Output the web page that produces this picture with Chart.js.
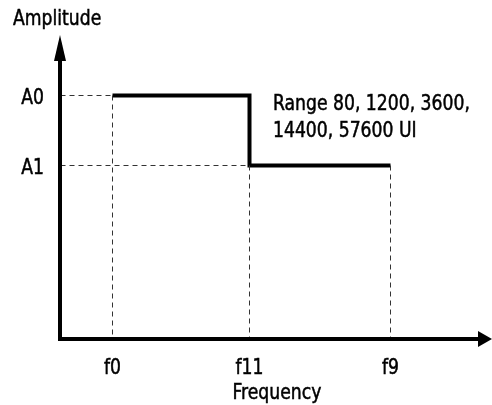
<!DOCTYPE html>
<html>
<head>
<meta charset="utf-8">
<script src="https://cdn.jsdelivr.net/npm/chart.js@4"></script>
<style>
html,body{margin:0;padding:0;background:#fff;}
#wrap{width:492px;height:405px;}
</style>
</head>
<body>
<div id="wrap"><canvas id="c" width="492" height="405"></canvas></div>
<script>
// ---- data (schematic units) ----
const freqLabels = ['f0', 'f11', 'f9'];
const freqValues = [52, 189, 330];
const ampLabels = ['A0', 'A1'];
const ampValues = [243, 173];
const stepX = [52, 189, 189, 330];
const stepY = [243, 243, 173, 173];
const noteLines = ['Range 80, 1200, 3600,', '14400, 57600 UI'];
const xTitle = 'Frequency';
const yTitle = 'Amplitude';

const FONT = '"DejaVu Sans Condensed", "Liberation Sans Narrow", sans-serif';
const SQUEEZE = 0.87;

const stepData = stepX.map((x, i) => ({x: x, y: stepY[i]}));
const guide = (pts) => ({
  data: pts, showLine: true, borderColor: '#333', borderWidth: 1,
  borderDash: [5, 4], pointRadius: 0, fill: false
});
const guides = [
  guide([{x: 0, y: ampValues[0]}, {x: freqValues[0], y: ampValues[0]}]),
  guide([{x: 0, y: ampValues[1]}, {x: freqValues[1], y: ampValues[1]}]),
  guide([{x: freqValues[0], y: ampValues[0]}, {x: freqValues[0], y: 0}]),
  guide([{x: freqValues[1], y: ampValues[1]}, {x: freqValues[1], y: 0}]),
  guide([{x: freqValues[2], y: ampValues[1]}, {x: freqValues[2], y: 0}])
];

function drawText(ctx, text, x, y, align) {
  ctx.save();
  ctx.translate(x, y);
  ctx.scale(SQUEEZE, 1);
  ctx.textAlign = align;
  ctx.textBaseline = 'alphabetic';
  ctx.lineWidth = 0.5;
  ctx.fillText(text, 0, 0);
  ctx.strokeText(text, 0, 0);
  ctx.restore();
}

const decor = {
  id: 'decor',
  afterDatasetsDraw(chart) {
    const ctx = chart.ctx, a = chart.chartArea;
    const xs = chart.scales.x, ys = chart.scales.y;
    ctx.save();
    ctx.fillStyle = '#000'; ctx.strokeStyle = '#000';
    ctx.lineWidth = 4; ctx.lineCap = 'butt';
    // y axis with arrow
    ctx.beginPath(); ctx.moveTo(a.left, a.bottom + 2); ctx.lineTo(a.left, 58); ctx.stroke();
    ctx.beginPath(); ctx.moveTo(a.left, 35); ctx.lineTo(a.left - 6, 61); ctx.lineTo(a.left + 6, 61); ctx.closePath(); ctx.fill();
    // x axis with arrow
    ctx.beginPath(); ctx.moveTo(a.left - 2, a.bottom); ctx.lineTo(480, a.bottom); ctx.stroke();
    ctx.beginPath(); ctx.moveTo(492, a.bottom); ctx.lineTo(478, a.bottom - 8); ctx.lineTo(478, a.bottom + 8); ctx.closePath(); ctx.fill();
    // texts
    ctx.font = '22px ' + FONT;
    drawText(ctx, yTitle, 13, 25, 'left');
    drawText(ctx, noteLines[0], 273, 110, 'left');
    drawText(ctx, noteLines[1], 273, 137, 'left');
    drawText(ctx, xTitle, 277, 399, 'center');
    // tick labels positioned through the scales
    freqValues.forEach((v, i) => drawText(ctx, freqLabels[i], xs.getPixelForValue(v), 374, 'center'));
    ampValues.forEach((v, i) => drawText(ctx, ampLabels[i], 44, ys.getPixelForValue(v) + 8, 'right'));
    ctx.restore();
  }
};

new Chart(document.getElementById('c'), {
  type: 'scatter',
  data: {
    datasets: [
      ...guides,
      {data: stepData, showLine: true, borderColor: '#000', borderWidth: 4, pointRadius: 0, fill: false, borderJoinStyle: 'miter'}
    ]
  },
  options: {
    responsive: false, animation: false,
    devicePixelRatio: 1,
    layout: {padding: {left: 0, top: 39, right: 12, bottom: 0}},
    plugins: {legend: {display: false}, tooltip: {enabled: false}},
    scales: {
      x: {
        type: 'linear', min: -0.5, max: 419.5,
        grid: {display: false}, border: {display: false},
        afterFit(s) { s.height = 66; },
        afterBuildTicks(s) { s.ticks = freqValues.map(v => ({value: v})); },
        ticks: {display: false}
      },
      y: {
        type: 'linear', min: -0.5, max: 299.5,
        grid: {display: false}, border: {display: false},
        afterFit(s) { s.width = 60; },
        afterBuildTicks(s) { s.ticks = ampValues.map(v => ({value: v})); },
        ticks: {display: false}
      }
    }
  },
  plugins: [decor]
});
</script>
</body>
</html>
